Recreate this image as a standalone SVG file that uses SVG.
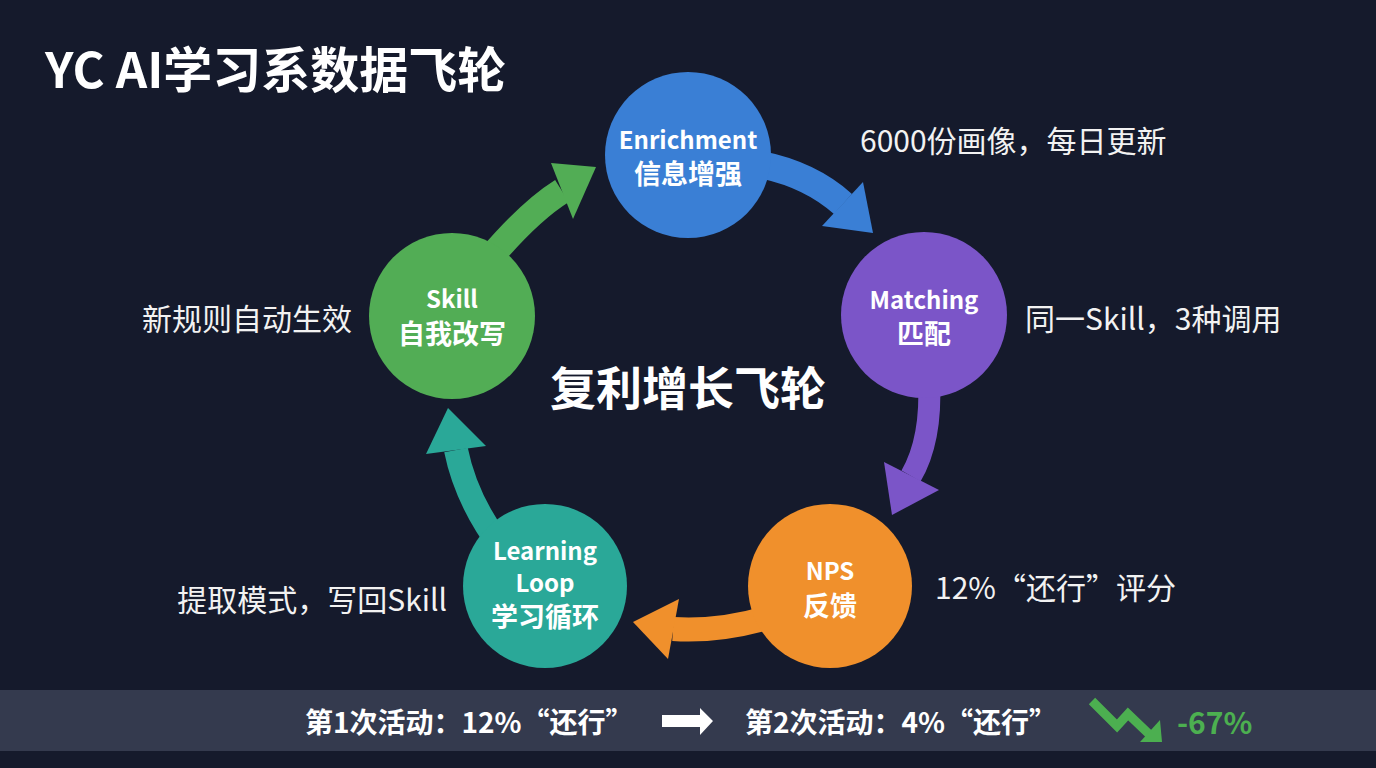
<svg xmlns="http://www.w3.org/2000/svg" width="1376" height="768" viewBox="0 0 1376 768">
<style>
text{font-family:"Noto Sans CJK SC","Noto Sans",sans-serif;fill:#ffffff;dominant-baseline:central}
.title{font-size:49px;font-weight:700}
.nl{font-size:24px;font-weight:700;text-anchor:middle}
.nc{font-size:27px;font-weight:700;text-anchor:middle}
.lab{font-size:30px;font-weight:400;fill:#f2f2f2}
.hub{font-size:46px;font-weight:700;text-anchor:middle}
.bar{font-size:28px;font-weight:700}
.shaft{fill:none;stroke-linecap:butt}
</style>
<rect x="0" y="0" width="1376" height="768" fill="#151a2c"/>
<text class="title" x="45" y="66">YC AI学习系数据飞轮</text>

<g id="connectors">
  <path class="shaft" d="M490 258 Q530 211 562 191" stroke="#52ad55" stroke-width="26"/>
  <polygon points="596,167 551,163 573,219" fill="#52ad55"/>
  <path class="shaft" d="M745 162 Q805 170 843 204" stroke="#3a7fd5" stroke-width="27"/>
  <polygon points="873,233 863,182 822,226" fill="#3a7fd5"/>
  <path class="shaft" d="M929 380 Q932 440 911 476" stroke="#7b55c8" stroke-width="22"/>
  <polygon points="892,515 884,462 939,490" fill="#7b55c8"/>
  <path class="shaft" d="M770 617 Q720 632 673 629" stroke="#f0902c" stroke-width="24"/>
  <polygon points="633,622 679,599 668,659" fill="#f0902c"/>
  <path class="shaft" d="M502 548 Q466 500 456 450" stroke="#2aa898" stroke-width="24"/>
  <polygon points="448,408 426,454 486,446" fill="#2aa898"/>
</g>

<g id="enrichment">
  <circle cx="688" cy="155" r="83" fill="#3a7fd5"/>
  <text class="nl" x="688" y="138">Enrichment</text>
  <text class="nc" x="688" y="172">信息增强</text>
</g>
<g id="matching">
  <circle cx="924" cy="315" r="83" fill="#7b55c8"/>
  <text class="nl" x="924" y="298">Matching</text>
  <text class="nc" x="924" y="332">匹配</text>
</g>
<g id="nps">
  <circle cx="830" cy="586" r="82" fill="#f0902c"/>
  <text class="nl" x="830" y="569">NPS</text>
  <text class="nc" x="830" y="604">反馈</text>
</g>
<g id="learning">
  <circle cx="545" cy="586" r="82" fill="#2aa898"/>
  <text class="nl" x="545" y="549">Learning</text>
  <text class="nl" x="545" y="581">Loop</text>
  <text class="nc" x="545" y="615">学习循环</text>
</g>
<g id="skill">
  <circle cx="452" cy="316" r="83" fill="#52ad55"/>
  <text class="nl" x="452" y="297">Skill</text>
  <text class="nc" x="452" y="332">自我改写</text>
</g>

<text class="hub" x="688" y="385">复利增长飞轮</text>

<text class="lab" x="860" y="139">6000份画像，每日更新</text>
<text class="lab" x="1025" y="317">同一Skill，3种调用</text>
<text class="lab" x="935" y="586">12%“还行”评分</text>
<text class="lab" x="352" y="317" text-anchor="end">新规则自动生效</text>
<text class="lab" x="447" y="598" text-anchor="end">提取模式，写回Skill</text>

<g id="summary-bar">
  <rect x="0" y="690" width="1376" height="61" fill="#343a4e"/>
  <text class="bar" x="305" y="721">第1次活动：12%“还行”</text>
  <polygon points="662,715 700,715 700,708 713,721 700,735 700,727 662,727" fill="#ffffff"/>
  <text class="bar" x="745" y="721">第2次活动：4%“还行”</text>
  <polyline points="1092,701 1117,726 1128,714 1150,735" fill="none" stroke="#4caf50" stroke-width="9" stroke-linejoin="miter"/>
  <polygon points="1162,742 1140,742 1160,720" fill="#4caf50"/>
  <text class="bar" x="1177" y="721" style="fill:#4caf50;font-size:30px">-67%</text>
</g>
</svg>
